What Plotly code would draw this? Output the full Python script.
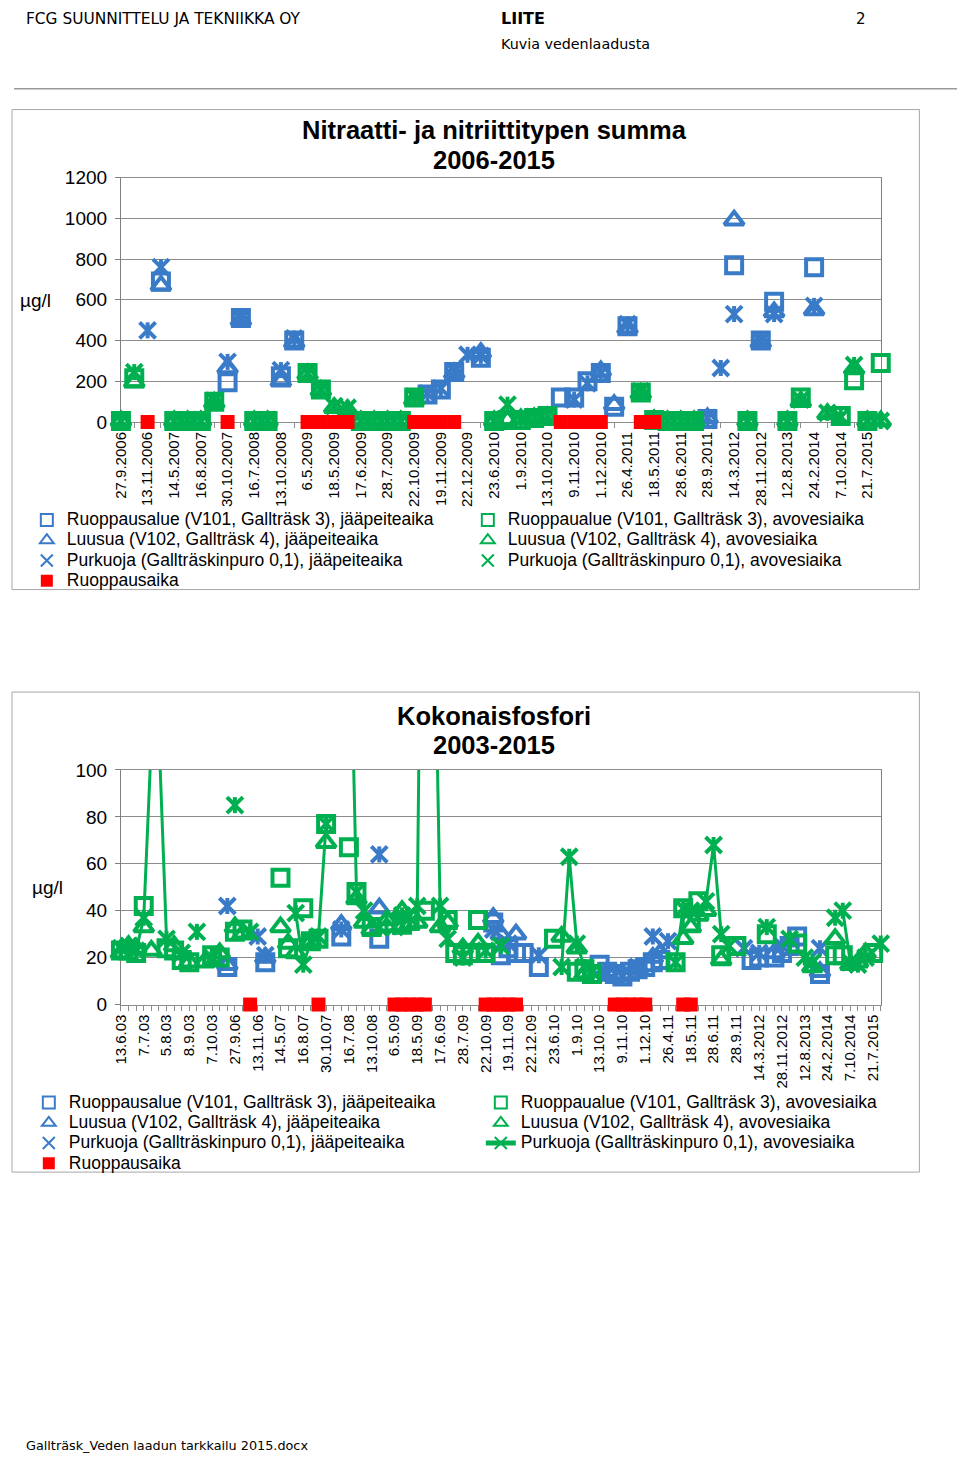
import plotly.graph_objects as go

_ = None
W, H = 960, 1465

# ---------------- Chart 1: Nitraatti- ja nitriittitypen summa 2006-2015 (µg/l) ----------------
N_TICKTEXT = ["27.9.2006", "13.11.2006", "14.5.2007", "16.8.2007", "30.10.2007", "16.7.2008",
              "13.10.2008", "6.5.2009", "18.5.2009", "17.6.2009", "28.7.2009", "22.10.2009",
              "19.11.2009", "22.12.2009", "23.6.2010", "1.9.2010", "13.10.2010", "9.11.2010",
              "1.12.2010", "26.4.2011", "18.5.2011", "28.6.2011", "28.9.2011", "14.3.2012",
              "28.11.2012", "12.8.2013", "24.2.2014", "7.10.2014", "21.7.2015"]

N_RUOP_JAA = [_, _, _, 690, _, _, _, _, 195, 510,
              _, _, 225, 400, _, _, _, _, _, _,
              _, _, _, 135, 160, 245, _, 315, _, _,
              _, _, _, 120, 120, 200, 240, 75, 470, _,
              _, _, _, _, 15, _, 770, _, 400, 590,
              _, _, 760, _, _, _, _, _]
N_LUUS_JAA = [_, _, _, 670, _, _, _, _, 265, 500,
              _, _, 200, 390, _, _, _, _, _, _,
              _, _, _, _, _, 240, _, 340, _, _,
              _, _, _, _, _, _, 250, 85, 460, _,
              _, _, _, _, 20, _, 990, _, 390, 540,
              _, _, 550, _, _, _, _, _]
N_PURK_JAA = [_, _, 450, 760, _, _, _, _, 295, 510,
              _, _, 255, 410, _, _, _, _, _, _,
              _, _, _, 140, 165, 250, 330, 325, _, _,
              _, _, _, _, 110, 190, 240, _, 480, _,
              _, _, _, _, 20, 265, 530, _, 400, 530,
              _, _, 570, _, _, _, _, _]
N_RUOP_AVO = [5, 215, _, _, 5, 5, 5, 100, _, _,
              5, 5, _, _, 240, 160, _, _, 5, 5,
              5, 5, 120, _, _, _, _, _, 5, 10,
              10, 20, 30, _, _, _, _, _, _, 145,
              10, 5, 5, 5, _, _, _, 5, _, _,
              5, 120, _, _, 30, 205, 5, 290]
N_LUUS_AVO = [5, 195, _, _, 5, 5, 5, 95, _, _,
              5, 5, _, _, 235, 155, 70, 60, 5, 5,
              5, 5, 110, _, _, _, _, _, 5, 10,
              15, 20, 25, _, _, _, _, _, _, 140,
              10, 5, 5, 5, _, _, _, 5, _, _,
              5, 100, _, 40, _, 260, 5, 5]
N_PURK_AVO = [5, 245, _, _, 5, 10, 5, 105, _, _,
              5, 10, _, _, 240, 160, 78, 70, 5, 5,
              5, 5, 125, _, _, _, _, _, 5, 85,
              10, 25, 30, _, _, _, _, _, _, 150,
              10, 5, 5, 5, _, _, _, 5, _, _,
              5, 110, _, 45, 25, 280, 5, 5]
N_RUOPPAUS = [_, _, 0, _, _, _, _, _, 0, _,
              _, _, _, _, 0, 0, 0, 0, _, _,
              _, _, 0, 0, 0, 0, _, _, _, _,
              _, _, _, 0, 0, 0, 0, _, _, 0,
              0, _, _, _, _, _, _, _, _, _,
              _, _, _, _, _, _, _, _]

# ---------------- Chart 2: Kokonaisfosfori 2003-2015 (µg/l) ----------------
P_TICKTEXT = ["13.6.03", "7.7.03", "5.8.03", "8.9.03", "7.10.03", "27.9.06", "13.11.06",
              "14.5.07", "16.8.07", "30.10.07", "16.7.08", "13.10.08", "6.5.09", "18.5.09",
              "17.6.09", "28.7.09", "22.10.09", "19.11.09", "22.12.09", "23.6.10", "1.9.10",
              "13.10.10", "9.11.10", "1.12.10", "26.4.11", "18.5.11", "28.6.11", "28.9.11",
              "14.3.2012", "28.11.2012", "12.8.2013", "24.2.2014", "7.10.2014", "21.7.2015"]

P_RUOP_JAA = [_, _, _, _, _, _, _, _, _, _,
              _, _, _, _, 16, _, _, _, _, 18,
              _, _, _, _, _, _, _, _, _, 29,
              _, _, _, _, 28, _, _, _, _, _,
              _, _, _, _, _, _, _, _, _, 35,
              21, 24, 22, 22, _, 16, _, _, _, _,
              _, _, _, 17, 14, 13, 12, 14, 15, 16,
              18, 19, _, _, _, _, _, _, _, _,
              _, _, _, 19, 20, _, 20, 22, 25, 29,
              _, _, 13, _, _, _, _, _, _, _,
              _]
P_LUUS_JAA = [_, _, _, _, _, _, _, _, _, _,
              _, _, _, _, 17, _, _, _, _, 20,
              _, _, _, _, _, _, _, _, _, 34,
              _, _, _, _, 41, _, _, _, _, _,
              _, _, _, _, _, _, _, _, _, 37,
              30, _, 30, _, _, _, _, _, _, _,
              _, _, _, _, 14, _, 13, _, 15, _,
              20, 22, _, _, _, _, _, _, _, _,
              _, _, _, _, _, _, 22, _, 27, _,
              _, _, 14, _, _, _, _, _, _, _,
              _]
P_PURK_JAA = [_, _, _, _, _, _, _, _, _, _,
              _, _, _, _, 42, _, _, _, 29, 21,
              _, _, _, _, _, _, _, _, _, 32,
              _, _, _, _, 64, _, _, _, _, _,
              _, _, _, _, _, _, _, _, _, 32,
              _, 26, _, _, _, 21, _, _, _, _,
              _, _, _, _, 13, _, 12, _, 16, _,
              29, _, 27, _, _, _, _, _, _, _,
              _, _, 24, _, 22, _, _, 25, _, _,
              _, _, 24, _, _, _, _, _, _, _,
              _]
P_RUOP_AVO = [23, 23, 22, 42, _, _, 24, 23, 19, 18,
              _, _, 21, 20, _, 31, 32, _, _, _,
              _, 54, 24, _, 41, 27, 28, 77, _, _,
              67, 48, _, 33, _, _, 35, 34, 36, _,
              40, _, _, 36, 22, 21, 22, 36, 22, _,
              _, _, _, _, _, _, _, 28, _, _,
              14, 15, 13, _, _, _, _, _, _, _,
              _, _, _, 18, 41, 35, 44, _, _, 21,
              _, 25, _, _, _, 30, _, _, _, 26,
              _, _, _, _, 21, 21, _, _, _, 22,
              _]
P_LUUS_AVO = [22, 25, 24, 33, 23, _, _, 25, _, 18,
              _, 18, _, 22, _, 33, 30, _, _, _,
              _, 33, 26, 22, _, 27, _, 69, _, _,
              _, 45, 35, 32, _, 36, _, 40, 34, 35,
              _, _, 33, 35, _, 24, _, 26, _, _,
              _, _, _, _, _, _, _, _, 29, _,
              24, 13, _, _, _, _, _, _, _, _,
              _, _, _, _, 28, 33, 38, 40, _, 19,
              _, _, _, _, _, _, _, _, _, _,
              _, 16, _, _, 28, _, 17, 18, 22, _,
              _]
P_PURK_AVO = [24, 25, 23, 37, 112, 115, 28, _, 22, _,
              31, _, 20, _, _, 85, _, 31, _, _,
              _, _, _, 39, 17, 27, 29, 77, _, _,
              192, 48, 40, _, 33, _, 33, 38, _, 42,
              340, 216, 42, 28, _, 20, _, _, 23, _,
              25, _, _, _, _, _, _, _, 16, 63,
              26, 16, 14, _, _, _, _, _, _, _,
              _, _, _, 18, 41, 40, _, 44, 68, 30,
              25, _, _, _, _, 33, _, _, 28, _,
              20, 18, _, _, 37, 40, 18, 17, 20, _,
              26]
P_RUOPPAUS = [_, _, _, _, _, _, _, _, _, _,
              _, _, _, _, _, _, _, 0, _, _,
              _, _, _, _, _, _, 0, _, _, _,
              _, _, _, _, _, _, 0, 0, 0, 0,
              0, _, _, _, _, _, _, _, 0, 0,
              0, 0, 0, _, _, _, _, _, _, _,
              _, _, _, _, _, 0, 0, 0, 0, 0,
              _, _, _, _, 0, 0, _, _, _, _,
              _, _, _, _, _, _, _, _, _, _,
              _, _, _, _, _, _, _, _, _, _,
              _]

NAMES = ["Ruoppausalue (V101, Gallträsk 3), jääpeiteaika",
         "Luusua (V102, Gallträsk 4), jääpeiteaika",
         "Purkuoja (Gallträskinpuro 0,1), jääpeiteaika",
         "Ruoppaualue (V101, Gallträsk 3), avovesiaika",
         "Luusua (V102, Gallträsk 4), avovesiaika",
         "Purkuoja (Gallträskinpuro 0,1), avovesiaika",
         "Ruoppausaika"]

BLUE = "#3a7bc8"
GREEN = "#00b050"
RED = "#ff0000"
GRID = "#8c8c8c"
AXC = "#8c8c8c"
SANS = "Liberation Sans, Arial, sans-serif"
DOC = "DejaVu Sans, Verdana, sans-serif"
LEG_TEXT = 17.5


def fx(p):
    return p / W


def fy(p):
    return 1 - p / H


def legname(s):
    return f'<span style="font-size:{LEG_TEXT}px">{s}</span>'


fig = go.Figure()

SPECS = [(BLUE, "square-open"), (BLUE, "triangle-up-open"), (BLUE, "x-thin-open"),
         (GREEN, "square-open"), (GREEN, "triangle-up-open"), (GREEN, "x-thin-open")]
RANKS = [1, 3, 5, 2, 4, 6]


def add_chart(series, red, xa, ya, leg, msize, mlw, line_last):
    cats = list(range(len(red)))
    for k, vals in enumerate(series):
        col, sym = SPECS[k]
        mode = "lines+markers" if (line_last and k == 5) else "markers"
        fig.add_trace(go.Scatter(
            x=cats, y=vals, mode=mode, name=legname(NAMES[k]), legend=leg, legendrank=RANKS[k],
            xaxis=xa, yaxis=ya, cliponaxis=False, connectgaps=False, hoverinfo="skip",
            line=dict(color=col, width=3),
            marker=dict(symbol=sym, size=msize + (1 if "triangle" in sym else 0), color=col,
                        line=dict(color=col, width=mlw))))
        if sym.startswith("x"):
            fig.add_trace(go.Scatter(
                x=cats, y=vals, mode="markers", showlegend=False, legend=leg,
                xaxis=xa, yaxis=ya, cliponaxis=False, hoverinfo="skip",
                marker=dict(symbol="line-ns-open", size=msize / 1.4, color=col,
                            line=dict(color=col, width=mlw))))
    fig.add_trace(go.Scatter(
        x=cats, y=red, mode="markers", name=legname(NAMES[6]), legend=leg, legendrank=7,
        xaxis=xa, yaxis=ya, cliponaxis=False, hoverinfo="skip",
        marker=dict(symbol="square", size=14, color=RED, line=dict(width=0))))


add_chart([N_RUOP_JAA, N_LUUS_JAA, N_PURK_JAA, N_RUOP_AVO, N_LUUS_AVO, N_PURK_AVO],
          N_RUOPPAUS, "x", "y", "legend", 16, 4, False)
add_chart([P_RUOP_JAA, P_LUUS_JAA, P_PURK_JAA, P_RUOP_AVO, P_LUUS_AVO, P_PURK_AVO],
          P_RUOPPAUS, "x2", "y2", "legend2", 16, 4, True)

xcommon = dict(showgrid=False, zeroline=False, showline=True, linecolor=AXC, linewidth=1,
               mirror=True, tickangle=-90, tickfont=dict(family=SANS, size=15, color="#000"),
               ticks="", layer="below traces", fixedrange=True, ticklabelstandoff=3)
ycommon = dict(showgrid=True, gridcolor=GRID, gridwidth=1, zeroline=False, showline=True,
               linecolor="#7f7f7f", linewidth=1, mirror=True, ticks="outside", ticklen=5,
               tickcolor="#7f7f7f", tickfont=dict(family=SANS, size=19, color="#000"),
               layer="below traces", fixedrange=True, ticklabelstandoff=4)

n1 = len(N_RUOPPAUS)
n2 = len(P_RUOPPAUS)

legcommon = dict(orientation="h", xanchor="left", yanchor="top", entrywidthmode="pixels",
                 itemsizing="constant", traceorder="normal",
                 font=dict(family=SANS, size=13.3, color="#000"),
                 bgcolor="rgba(0,0,0,0)", tracegroupgap=0)

fig.update_layout(
    width=W, height=H, margin=dict(l=0, r=0, t=0, b=0), autosize=False,
    paper_bgcolor="white", plot_bgcolor="white", showlegend=True,
    xaxis=dict(xcommon, domain=[fx(113), fx(880)], range=[0, n1 - 1], anchor="y",
               tickmode="array", tickvals=list(range(0, n1, 2)), ticktext=N_TICKTEXT,
               minor=dict(tick0=1, dtick=2, ticks="outside", ticklen=5, tickcolor=AXC, showgrid=False)),
    yaxis=dict(ycommon, domain=[fy(418), fy(170)], range=[0, 1200], anchor="x",
               tickmode="linear", tick0=0, dtick=200),
    xaxis2=dict(xcommon, domain=[fx(113), fx(880)], range=[0, n2 - 1], anchor="y2",
                tickmode="array", tickvals=list(range(0, n2, 3)), ticktext=P_TICKTEXT,
                minor=dict(tick0=0, dtick=1, ticks="outside", ticklen=5, tickcolor=AXC, showgrid=False)),
    yaxis2=dict(ycommon, domain=[fy(1009), fy(771)], range=[0, 100], anchor="x2",
                tickmode="linear", tick0=0, dtick=20),
    legend=dict(legcommon, x=fx(18), y=fy(502), entrywidth=396),
    legend2=dict(legcommon, x=fx(20), y=fy(1093), entrywidth=407),
)

shapes = [
    dict(type="line", xref="paper", yref="paper", x0=fx(5), x1=fx(957), y0=fy(80), y1=fy(80),
         line=dict(color="#9a9a9a", width=1.5)),
    dict(type="rect", xref="paper", yref="paper", x0=fx(3), x1=fx(919), y0=fy(588), y1=fy(101),
         line=dict(color="#a6a6a6", width=1)),
    dict(type="rect", xref="paper", yref="paper", x0=fx(3), x1=fx(919), y0=fy(1179), y1=fy(692),
         line=dict(color="#a6a6a6", width=1)),
]
fig.update_layout(shapes=shapes)


def ann(text, x, y, size, family=SANS, bold=False, xanchor="left"):
    t = f"<b>{text}</b>" if bold else text
    return dict(text=t, x=fx(x), y=fy(y), xref="paper", yref="paper", showarrow=False,
                xanchor=xanchor, yanchor="middle", font=dict(family=family, size=size, color="#000"))


fig.update_layout(annotations=[
    ann("FCG SUUNNITTELU JA TEKNIIKKA OY", 15, 9, 15.4, DOC),
    ann("LIITE", 495, 9, 16, DOC, bold=True),
    ann("2", 853, 9, 15, DOC),
    ann("Kuvia vedenlaadusta", 495, 35, 14.3, DOC),
    ann("Gallträsk_Veden laadun tarkkailu 2015.docx", 15, 1456, 12.8, DOC),
    ann("Nitraatti- ja nitriittitypen summa", 490, 122, 25.5, bold=True, xanchor="center"),
    ann("2006-2015", 490, 152, 25.5, bold=True, xanchor="center"),
    ann("µg/l", 9, 295, 19),
    ann("Kokonaisfosfori", 490, 716, 25.5, bold=True, xanchor="center"),
    ann("2003-2015", 490, 746, 25.5, bold=True, xanchor="center"),
    ann("µg/l", 21, 890, 19),
])

fig.write_html(
    "out.html",
    config={"displayModeBar": False, "responsive": False},
    post_script=(
        "document.documentElement.style.margin='0';document.documentElement.style.padding='0';"
        "document.documentElement.style.overflow='hidden';"
        "document.body.style.margin='0';document.body.style.padding='0';"
        "document.body.style.overflow='hidden';"
        "var gd=document.getElementsByClassName('plotly-graph-div')[0];"
        "if(gd){gd.style.position='absolute';gd.style.left='0px';gd.style.top='0px';}"
    ),
)
